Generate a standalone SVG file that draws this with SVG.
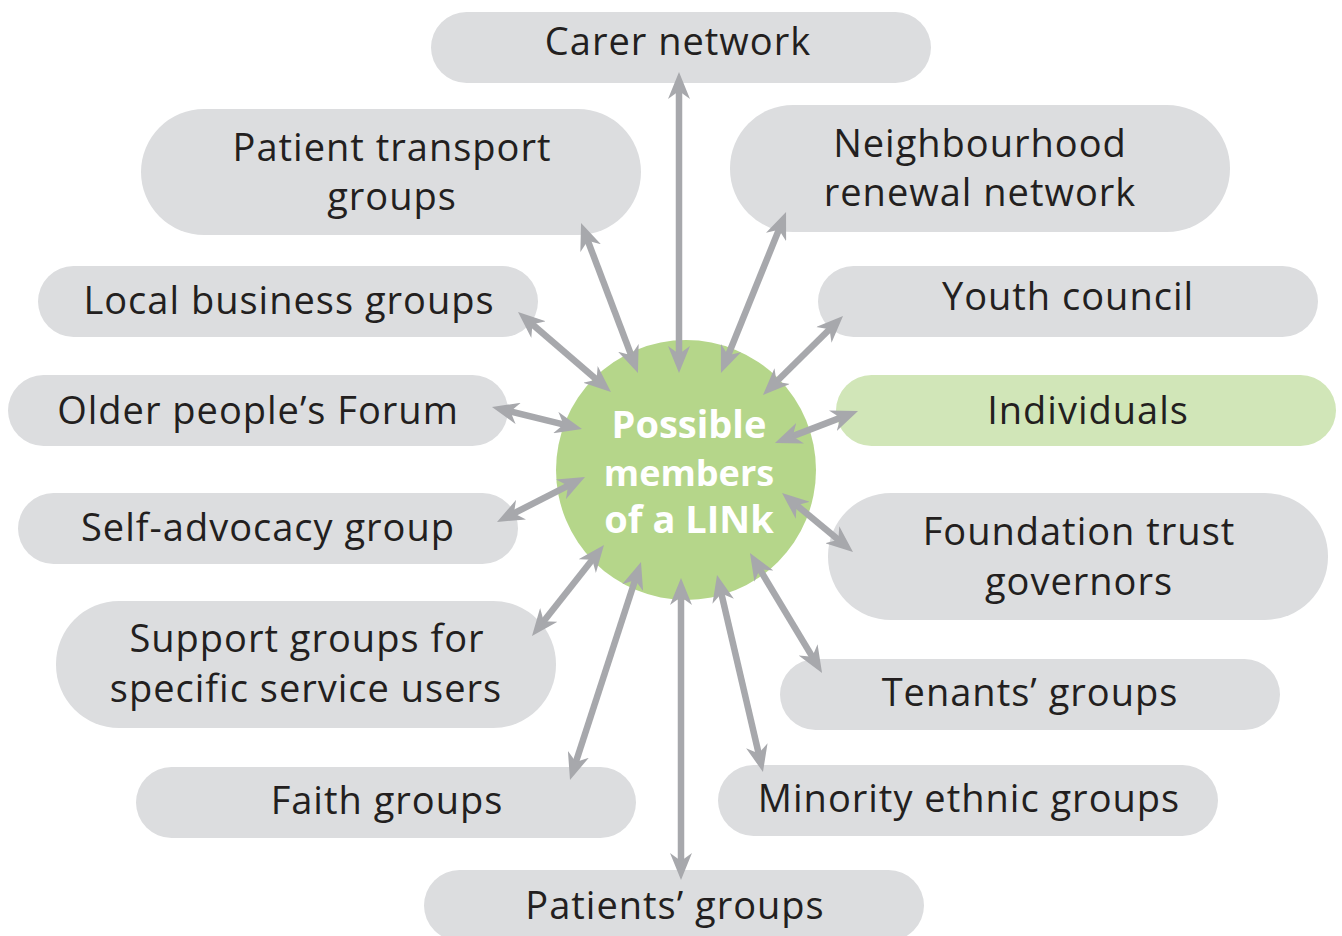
<svg xmlns="http://www.w3.org/2000/svg" width="1342" height="936" viewBox="0 0 1342 936">
<style>
.pill{fill:#dcdddf}
.pill.hl{fill:#d1e6b8}
.lbl{font-family:"Open Sans","Liberation Sans",sans-serif;font-size:38px;letter-spacing:1px;fill:#231f20;text-anchor:middle}
.ctr{font-family:"Open Sans","Liberation Sans",sans-serif;font-size:38px;font-weight:bold;fill:#ffffff;text-anchor:middle}
.con{stroke:#a7a8ac;stroke-width:6.5;fill:none;marker-start:url(#ah);marker-end:url(#ah)}
</style>
<defs>
<marker id="ah" markerUnits="userSpaceOnUse" markerWidth="30" markerHeight="22" viewBox="0 0 30 22" refX="17" refY="11" orient="auto-start-reverse">
<path d="M0,0 L27,11 L0,22 L8,11 Z" fill="#a7a8ac"/>
</marker>
</defs>
<rect width="1342" height="936" fill="#ffffff"/>
<g id="carer"><rect class="pill" x="431" y="12" width="500" height="71" rx="35.5"/><text class="lbl" x="678" y="55">Carer network</text></g>
<g id="patient-transport"><rect class="pill" x="141" y="109" width="500" height="126" rx="63"/><text class="lbl" x="392" y="161">Patient transport</text><text class="lbl" x="392" y="210">groups</text></g>
<g id="neighbourhood"><rect class="pill" x="730" y="105" width="500" height="127" rx="63"/><text class="lbl" x="980" y="157">Neighbourhood</text><text class="lbl" x="980" y="206">renewal network</text></g>
<g id="local-business"><rect class="pill" x="38" y="266" width="500" height="71" rx="35.5"/><text class="lbl" x="289" y="314">Local business groups</text></g>
<g id="youth"><rect class="pill" x="818" y="266" width="500" height="71" rx="35.5"/><text class="lbl" x="1068" y="310">Youth council</text></g>
<g id="older"><rect class="pill" x="8" y="375" width="500" height="71" rx="35.5"/><text class="lbl" x="258" y="424">Older people’s Forum</text></g>
<g id="individuals"><rect class="pill hl" x="836" y="375" width="500" height="71" rx="35.5"/><text class="lbl" x="1088" y="424">Individuals</text></g>
<g id="self-advocacy"><rect class="pill" x="18" y="493" width="500" height="71" rx="35.5"/><text class="lbl" x="268" y="541">Self-advocacy group</text></g>
<g id="foundation"><rect class="pill" x="828" y="493" width="500" height="127" rx="63"/><text class="lbl" x="1079" y="545">Foundation trust</text><text class="lbl" x="1079" y="595">governors</text></g>
<g id="support"><rect class="pill" x="56" y="601" width="500" height="127" rx="63"/><text class="lbl" x="307" y="652">Support groups for</text><text class="lbl" x="306" y="702">specific service users</text></g>
<g id="tenants"><rect class="pill" x="780" y="659" width="500" height="71" rx="35.5"/><text class="lbl" x="1030" y="706">Tenants’ groups</text></g>
<g id="faith"><rect class="pill" x="136" y="767" width="500" height="71" rx="35.5"/><text class="lbl" x="387" y="814">Faith groups</text></g>
<g id="minority"><rect class="pill" x="718" y="765" width="500" height="71" rx="35.5"/><text class="lbl" x="969" y="812">Minority ethnic groups</text></g>
<g id="patients"><rect class="pill" x="424" y="870" width="500" height="71" rx="35.5"/><text class="lbl" x="675" y="919">Patients’ groups</text></g>
<g id="center"><circle cx="686" cy="470" r="130" fill="#b5d68a"/><text class="ctr" x="689" y="438">Possible</text><text class="ctr" x="689" y="486" style="font-size:36px">members</text><text class="ctr" x="689" y="533">of a LINk</text></g>
<g id="connectors">
<line class="con" x1="679" y1="82" x2="679" y2="363"/>
<line class="con" x1="584.6" y1="232.3" x2="634.4" y2="363.7"/>
<line class="con" x1="782.3" y1="221.3" x2="724.7" y2="363.7"/>
<line class="con" x1="525.6" y1="318.5" x2="603.4" y2="385.5"/>
<line class="con" x1="835.9" y1="323.0" x2="770.1" y2="388.0"/>
<line class="con" x1="501.7" y1="409.4" x2="572.3" y2="426.6"/>
<line class="con" x1="848.7" y1="414.6" x2="784.3" y2="439.4"/>
<line class="con" x1="505.9" y1="517.4" x2="576.1" y2="481.6"/>
<line class="con" x1="845.3" y1="545.6" x2="789.7" y2="499.4"/>
<line class="con" x1="538.2" y1="628.2" x2="597.8" y2="552.8"/>
<line class="con" x1="816.9" y1="664.4" x2="755.1" y2="561.6"/>
<line class="con" x1="573.1" y1="770.5" x2="637.9" y2="571.5"/>
<line class="con" x1="760.7" y1="762.3" x2="719.3" y2="584.7"/>
<line class="con" x1="681" y1="870" x2="681" y2="588"/>
</g>
</svg>
